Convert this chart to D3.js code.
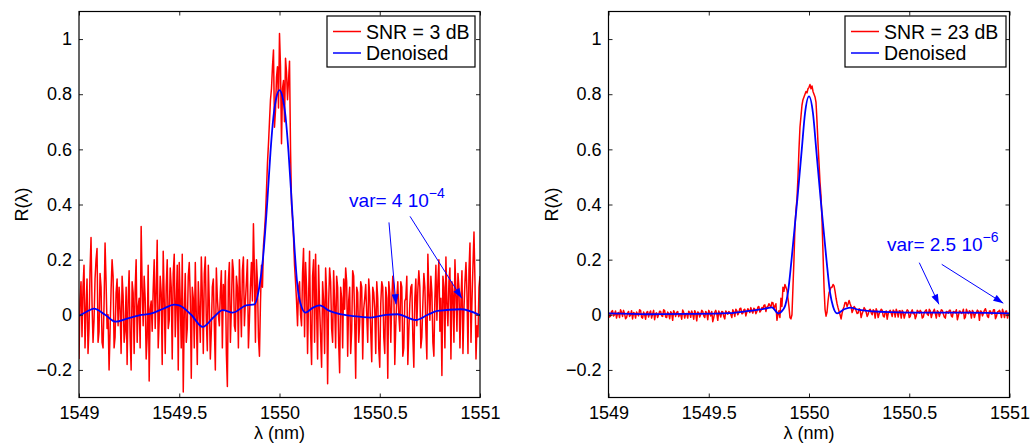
<!DOCTYPE html>
<html>
<head>
<meta charset="utf-8">
<script src="https://cdnjs.cloudflare.com/ajax/libs/d3/7.8.5/d3.min.js"></script>
<style>
  body { margin: 0; background: #fff; }
  svg { font-family: "Liberation Sans", Arial, Helvetica, sans-serif; }
</style>
</head>
<body>
<script>
// wavelength grid of the noisy spectra (nm): whole steps and half steps
var lambdaStart = 1549;
var lambdaStep = 0.01;

// tick values, shared by both panels
var xTicks = [1549, 1549.5, 1550, 1550.5, 1551];
var yTicks = [-0.2, 0, 0.2, 0.4, 0.6, 0.8, 1];

// left panel: noisy spectrum at SNR = 3 dB, at 1549.00, 1549.01 .. 1551.00
var noisyLeft = [
  -0.16, 0.12, 0.1, -0.12, 0.13, -0.05, 0.28, -0.1, 0.13, 0.24,
  -0.06, 0.1, -0.12, 0.26, -0.05, -0.2, 0.09, 0.14, -0.08, 0.13,
  0.1, -0.14, 0.07, -0.06, -0.18, 0.16, -0.2, 0.08, 0.09, -0.1,
  0.06, 0.32, -0.04, 0.06, -0.08, -0.24, 0.05, 0.09, -0.05, 0.27,
  -0.02, 0.08, 0.23, -0.14, 0.2, -0.02, 0.1, 0.15, -0.08, 0.18,
  0.19, -0.12, -0.28, 0.15, -0.05, 0.19, -0.23, 0.06, 0.19, -0.18,
  0.02, 0.21, -0.14, 0.21, -0.13, 0.04, -0.06, 0.13, -0.2, 0.06,
  -0.04, 0.16, 0.11, 0.16, -0.26, 0.19, 0.02, 0.16, -0.06, 0.1,
  0.2, -0.08, 0.21, 0.05, 0.2, -0.02, 0.19, 0.33, -0.1, 0.12,
  -0.15, 0.18, 0.25, 0.36, 0.55, 0.7, 0.82, 0.96, 0.74, 0.9,
  1.02, 0.62, 0.85, 0.93, 0.78, 0.92, 0.4, 0.28, 0.12, -0.04,
  0.12, -0.04, 0.24, 0.19, -0.14, 0.23, -0.18, 0.2, 0.22, -0.16,
  0.03, -0.19, 0.05, 0.17, -0.25, 0.17, -0.05, 0.16, -0.12, 0.1,
  -0.21, 0.06, 0.13, 0.17, -0.15, 0.1, -0.06, 0.14, -0.23, 0.08,
  -0.03, 0.1, 0.02, 0.11, -0.1, 0.07, -0.17, 0.08, -0.14, 0.06,
  -0.19, 0.12, -0.08, 0.1, -0.23, 0.08, 0.05, 0.1, -0.04, 0.12,
  -0.06, 0.1, -0.12, 0.06, -0.18, 0.04, 0.11, -0.19, 0.13, 0.09,
  0.1, -0.08, 0.15, -0.05, 0.22, -0.02, 0.08, -0.15, 0.18, 0.12,
  -0.06, -0.22, 0.1, 0.21, -0.04, 0.17, 0.12, -0.1, 0.08, 0.15,
  -0.12, 0.16, 0.02, 0.19, -0.14, 0.26, 0.05, 0.3, -0.16, -0.08,
  0.14
];

// left panel: the half steps 1549.005 .. 1550.995
var noisyLeftMid = [
  0.05, -0.08, 0.18, 0.02, -0.14, 0.16, 0.04, -0.02, 0.2, -0.1,
  0.15, -0.1, 0.04, 0.12, 0.0, -0.06, 0.2, -0.12, 0.08, -0.04,
  0.02, 0.14, -0.1, 0.1, 0.05, -0.08, 0.12, -0.14, 0.2, 0.03,
  -0.12, 0.1, 0.14, -0.16, 0.18, 0.02, -0.06, 0.2, 0.08, -0.12,
  0.14, -0.18, 0.06, 0.1, -0.05, 0.17, -0.16, 0.22, 0.04, -0.2,
  0.05, 0.22, 0.0, -0.1, 0.14, 0.06, 0.1, -0.12, 0.0, 0.12,
  -0.1, 0.08, 0.15, -0.02, 0.18, -0.16, 0.1, -0.04, 0.17, 0.0,
  0.08, -0.12, 0.02, -0.14, 0.12, -0.1, 0.2, -0.04, 0.14, -0.12,
  0.06, 0.16, -0.04, 0.12, -0.12, 0.1, 0.05, 0.15, 0.2, -0.08,
  0.04, 0.1, 0.3, 0.45, 0.62, 0.78, 0.9, 0.68, 0.86, 0.75,
  0.9, 0.82, 0.7, 0.88, 0.85, 0.6, 0.35, 0.18, 0.05, 0.1,
  0.0, 0.15, -0.08, 0.1, 0.06, -0.06, 0.14, -0.1, 0.02, 0.18,
  -0.08, 0.12, -0.14, 0.08, 0.04, 0.12, -0.1, 0.04, 0.14, -0.1,
  0.1, -0.12, 0.02, 0.12, 0.05, -0.14, 0.16, -0.02, 0.1, -0.1,
  0.12, -0.16, 0.06, 0.0, 0.13, -0.06, 0.1, 0.02, 0.12, -0.12,
  0.04, 0.1, -0.14, 0.06, 0.12, -0.1, 0.14, -0.18, 0.06, 0.0,
  0.12, -0.15, 0.05, 0.14, -0.06, 0.1, -0.08, 0.06, -0.04, 0.16,
  -0.12, 0.04, 0.1, -0.16, 0.08, 0.14, -0.1, 0.06, -0.02, 0.2,
  0.06, 0.14, -0.12, 0.04, 0.12, -0.16, 0.08, 0.2, -0.06, 0.1,
  0.05, -0.14, 0.12, 0.08, 0.16, -0.1, 0.18, 0.12, -0.04, 0.1
];

// left panel: denoised spectrum [lambda, R]
var denoisedLeft = [
  [1549.0, -0.004], [1549.04, 0.012], [1549.075, 0.022], [1549.13, 0.0],
  [1549.183, -0.025], [1549.24, -0.014], [1549.3, -0.002], [1549.358, 0.004],
  [1549.42, 0.022], [1549.475, 0.037], [1549.5, 0.034], [1549.56, 0.0],
  [1549.617, -0.044], [1549.67, -0.01], [1549.717, 0.017], [1549.767, 0.008],
  [1549.833, 0.034], [1549.875, 0.038], [1549.9, 0.104], [1549.917, 0.2],
  [1549.94, 0.42], [1549.955, 0.59], [1549.97, 0.72], [1549.985, 0.79],
  [1550.0, 0.815], [1550.015, 0.79], [1550.03, 0.72], [1550.045, 0.59],
  [1550.06, 0.42], [1550.075, 0.24], [1550.088, 0.116], [1550.105, 0.04],
  [1550.13, 0.008], [1550.165, 0.025], [1550.2, 0.034], [1550.25, 0.014],
  [1550.288, 0.005], [1550.37, -0.005], [1550.455, -0.01], [1550.53, 0.0],
  [1550.588, 0.002], [1550.68, -0.019], [1550.74, 0.0], [1550.788, 0.014],
  [1550.905, 0.02], [1551.0, -0.002]
];

// right panel: noisy spectrum at SNR = 23 dB, at 1549.00 .. 1549.89
var noisyRightLow = [
  0.01, -0.005, 0.015, 0.0, -0.012, 0.008, 0.018, -0.006, 0.004, -0.01,
  0.012, 0.0, -0.015, 0.006, 0.01, -0.004, 0.016, -0.012, 0.002, 0.009,
  -0.008, 0.014, 0.003, -0.018, 0.007, 0.0, 0.012, -0.006, 0.015, -0.01,
  0.004, 0.011, -0.02, 0.006, 0.009, -0.007, 0.002, 0.017, -0.012, 0.005,
  0.013, -0.009, 0.003, 0.015, -0.022, 0.008, 0.001, 0.012, -0.01, 0.006,
  0.016, -0.004, -0.025, 0.009, 0.004, 0.014, -0.008, 0.01, -0.015, 0.007,
  0.012, 0.002, 0.018, -0.006, 0.015, 0.008, 0.024, 0.005, 0.02, 0.01,
  0.016, 0.026, 0.006, 0.02, 0.012, 0.03, 0.015, 0.022, 0.036, 0.028,
  0.04, 0.028, 0.044, 0.032, -0.02, 0.015, 0.06, 0.1, 0.11, 0.09
];

// right panel: half steps 1549.005 .. 1549.895
var noisyRightLowMid = [
  -0.008, 0.012, -0.004, 0.014, 0.005, -0.01, 0.009, 0.016, -0.014, 0.006,
  -0.006, 0.015, 0.008, -0.012, 0.003, 0.018, -0.009, 0.01, -0.016, 0.012,
  0.006, -0.012, 0.016, 0.004, -0.01, 0.013, -0.004, 0.018, -0.008, 0.01,
  -0.014, 0.006, 0.015, -0.006, 0.012, 0.002, -0.016, 0.009, 0.004, -0.012,
  0.008, 0.014, -0.016, 0.006, 0.01, -0.008, 0.016, -0.004, 0.012, -0.018,
  0.006, 0.012, -0.01, 0.016, -0.02, 0.004, 0.012, -0.006, 0.014, 0.002,
  0.008, -0.01, 0.01, 0.02, 0.0, 0.022, 0.004, 0.018, -0.004, 0.022,
  0.008, 0.014, 0.024, 0.004, 0.028, 0.01, 0.026, 0.034, 0.012, 0.03,
  0.034, 0.045, 0.022, 0.04, 0.0, -0.01, 0.03, 0.085, 0.1, 0.06
];

// right panel: the peak, sampled finer [lambda, R]
var noisyRightPeak = [
  [1549.9, 0.03], [1549.905, -0.01], [1549.91, -0.015], [1549.915, 0.0],
  [1549.92, 0.1], [1549.925, 0.2], [1549.93, 0.32], [1549.935, 0.38],
  [1549.94, 0.42], [1549.945, 0.5], [1549.95, 0.6], [1549.955, 0.68],
  [1549.96, 0.72], [1549.965, 0.76], [1549.97, 0.78], [1549.975, 0.79],
  [1549.98, 0.8], [1549.985, 0.81], [1549.99, 0.805], [1549.995, 0.82],
  [1550.0, 0.825], [1550.005, 0.835], [1550.01, 0.82], [1550.015, 0.83],
  [1550.02, 0.81], [1550.025, 0.8], [1550.03, 0.79], [1550.035, 0.77],
  [1550.04, 0.7], [1550.045, 0.62], [1550.05, 0.55], [1550.055, 0.48],
  [1550.06, 0.43], [1550.065, 0.34], [1550.07, 0.22], [1550.075, 0.1],
  [1550.08, 0.02], [1550.085, -0.005], [1550.09, 0.01], [1550.095, 0.05],
  [1550.1, 0.08]
];

// right panel: at 1550.11 .. 1551.00
var noisyRightHigh = [
  0.1, 0.11, 0.085, 0.04, 0.012, -0.015, 0.02, 0.045, 0.03, 0.052,
  0.03, 0.018, 0.025, 0.005, 0.022, -0.01, 0.014, 0.02, -0.006, 0.016,
  0.008, 0.018, -0.012, 0.012, 0.004, 0.02, -0.004, 0.01, -0.016, 0.012,
  0.006, 0.017, -0.008, 0.01, 0.015, -0.012, 0.008, 0.003, 0.018, -0.01,
  0.011, 0.004, -0.014, 0.016, 0.006, 0.01, -0.008, 0.014, 0.002, 0.02,
  -0.01, 0.012, 0.005, 0.015, -0.006, 0.018, 0.003, -0.012, 0.01, 0.016,
  -0.004, 0.012, 0.007, -0.018, 0.014, 0.005, 0.02, -0.008, 0.01, 0.015,
  -0.012, 0.009, 0.004, 0.017, -0.02, 0.012, 0.006, 0.022, -0.006, 0.014,
  0.003, 0.018, -0.014, 0.01, 0.016, -0.01, 0.008, 0.012, -0.012, 0.006
];

// right panel: half steps 1550.105 .. 1550.995
var noisyRightHighMid = [
  0.09, 0.1, 0.105, 0.06, 0.025, 0.0, 0.005, 0.03, 0.045, 0.04,
  0.04, 0.008, 0.03, 0.015, 0.006, 0.018, 0.004, 0.026, 0.01, 0.002,
  0.02, 0.0, 0.014, 0.022, -0.01, 0.012, 0.016, -0.008, 0.014, 0.004,
  0.016, -0.006, 0.012, 0.02, -0.008, 0.014, 0.016, -0.012, 0.01, 0.014,
  -0.006, 0.018, 0.008, -0.004, 0.012, 0.016, -0.012, 0.008, 0.018, -0.002,
  0.014, 0.004, 0.02, -0.012, 0.01, 0.006, 0.016, -0.008, 0.012, 0.006,
  0.016, -0.008, 0.01, 0.018, -0.004, 0.012, 0.008, -0.014, 0.02, 0.004,
  0.01, 0.016, -0.01, 0.008, 0.012, 0.014, -0.004, 0.016, 0.01, -0.01,
  0.014, 0.004, 0.018, -0.006, 0.012, 0.008, 0.02, -0.01, 0.014, 0.004
];

// right panel: denoised spectrum [lambda, R]
var denoisedRight = [
  [1549.0, 0.005], [1549.2, 0.002], [1549.4, 0.003], [1549.6, 0.006],
  [1549.7, 0.014], [1549.78, 0.022], [1549.815, 0.027], [1549.847, 0.005],
  [1549.87, 0.018], [1549.882, 0.035], [1549.895, 0.08], [1549.913, 0.2],
  [1549.942, 0.42], [1549.964, 0.6], [1549.98, 0.73], [1550.0, 0.792],
  [1550.02, 0.73], [1550.036, 0.6], [1550.058, 0.42], [1550.087, 0.2],
  [1550.105, 0.08], [1550.12, 0.03], [1550.14, 0.005], [1550.175, 0.02],
  [1550.205, 0.026], [1550.25, 0.018], [1550.4, 0.01], [1550.6, 0.008],
  [1550.8, 0.008], [1551.0, 0.005]
];

var legendLeft = ["SNR = 3 dB", "Denoised"];
var legendRight = ["SNR = 23 dB", "Denoised"];

// put grid values together with their wavelength (offset 0.5 for half steps)
function onGrid(values, firstIndex) {
  return values.map(function(v, i) {
    return [+(lambdaStart + (firstIndex + i) * lambdaStep).toFixed(4), v];
  });
}

function byLambda(a, b) {
  return a[0] - b[0];
}

var seriesLeft = onGrid(noisyLeft, 0)
  .concat(onGrid(noisyLeftMid, 0.5))
  .sort(byLambda);

var seriesRight = onGrid(noisyRightLow, 0)
  .concat(onGrid(noisyRightLowMid, 0.5))
  .concat(noisyRightPeak)
  .concat(onGrid(noisyRightHigh, 111))
  .concat(onGrid(noisyRightHighMid, 110.5))
  .sort(byLambda);

// size of the picture and vertical extent of the axes
var w = 1031;
var h = 446;
var plotTop = 11.5;
var plotBottom = 397.5;

var svg = d3.select("body")
            .append("svg")
            .attr("width", w)
            .attr("height", h);

var defs = svg.append("defs");

// arrow head used by the annotations
defs.append("marker")
    .attr("id", "head")
    .attr("viewBox", "0 0 10 7")
    .attr("refX", 10)
    .attr("refY", 3.5)
    .attr("markerUnits", "userSpaceOnUse")
    .attr("markerWidth", 11)
    .attr("markerHeight", 7)
    .attr("orient", "auto")
    .append("path")
    .attr("d", "M0,0 L10,3.5 L0,7 Z")
    .attr("fill", "#0000ff");

function fmt(d) {
  return String(d).replace("-", "\u2212");
}

function drawPanel(p) {
  var xScale = d3.scaleLinear()
                 .domain([1549, 1551])
                 .range([p.left, p.right]);

  var yScale = d3.scaleLinear()
                 .domain([-0.3, 1.1])
                 .range([plotBottom, plotTop]);

  var g = svg.append("g");

  // clip the curves to the axes box
  defs.append("clipPath")
      .attr("id", p.id)
      .append("rect")
      .attr("x", p.left)
      .attr("y", plotTop)
      .attr("width", p.right - p.left)
      .attr("height", plotBottom - plotTop);

  var noisyLine = d3.line()
                    .x(function(d) { return xScale(d[0]); })
                    .y(function(d) { return yScale(d[1]); });

  var smoothLine = d3.line()
                     .curve(d3.curveMonotoneX)
                     .x(function(d) { return xScale(d[0]); })
                     .y(function(d) { return yScale(d[1]); });

  var plot = g.append("g").attr("clip-path", "url(#" + p.id + ")");

  plot.append("path")
      .datum(p.noisy)
      .attr("d", noisyLine)
      .attr("fill", "none")
      .attr("stroke", "#ff0000")
      .attr("stroke-width", 1.5)
      .attr("stroke-linejoin", "round");

  plot.append("path")
      .datum(p.denoised)
      .attr("d", smoothLine)
      .attr("fill", "none")
      .attr("stroke", "#0000ff")
      .attr("stroke-width", 1.8);

  // axes, ticks pointing inwards on all four sides
  g.append("g")
   .attr("transform", "translate(0," + plotBottom + ")")
   .call(d3.axisBottom(xScale).tickValues(xTicks).tickFormat(fmt)
           .tickSizeInner(-4).tickSizeOuter(0).tickPadding(9));
  g.append("g")
   .attr("transform", "translate(0," + plotTop + ")")
   .call(d3.axisTop(xScale).tickValues(xTicks).tickFormat("")
           .tickSizeInner(-4).tickSizeOuter(0));
  g.append("g")
   .attr("transform", "translate(" + p.left + ",0)")
   .call(d3.axisLeft(yScale).tickValues(yTicks).tickFormat(fmt)
           .tickSizeInner(-4).tickSizeOuter(0).tickPadding(7));
  g.append("g")
   .attr("transform", "translate(" + p.right + ",0)")
   .call(d3.axisRight(yScale).tickValues(yTicks).tickFormat("")
           .tickSizeInner(-4).tickSizeOuter(0));

  g.selectAll(".domain").remove();
  g.selectAll(".tick line").attr("stroke", "#222");
  g.selectAll(".tick text")
   .attr("font-size", "18px")
   .attr("font-family", "'Liberation Sans', Arial, sans-serif")
   .attr("fill", "#000");

  // axes box
  g.append("rect")
   .attr("x", p.left)
   .attr("y", plotTop)
   .attr("width", p.right - p.left)
   .attr("height", plotBottom - plotTop)
   .attr("fill", "none")
   .attr("stroke", "#000")
   .attr("stroke-width", 1.2);

  // axis labels
  g.append("text")
   .attr("x", (p.left + p.right) / 2)
   .attr("y", 439)
   .attr("text-anchor", "middle")
   .attr("font-size", "18px")
   .text("\u03bb (nm)");

  g.append("text")
   .attr("transform", "translate(" + (p.left - 51) + "," + ((plotTop + plotBottom) / 2) + ") rotate(-90)")
   .attr("text-anchor", "middle")
   .attr("font-size", "18px")
   .text("R(\u03bb)");

  // legend
  var legend = g.append("g");
  legend.append("rect")
        .attr("x", p.legendX)
        .attr("y", 16)
        .attr("width", p.legendW)
        .attr("height", 51)
        .attr("fill", "#fff")
        .attr("stroke", "#000")
        .attr("stroke-width", 1.2);

  var legendColor = ["#ff0000", "#0000ff"];
  for (var n = 0; n < p.legend.length; n++) {
    legend.append("line")
          .attr("x1", p.legendX + 6)
          .attr("x2", p.legendX + 34)
          .attr("y1", 31.5 + n * 21.5)
          .attr("y2", 31.5 + n * 21.5)
          .attr("stroke", legendColor[n])
          .attr("stroke-width", 1.5);
    legend.append("text")
          .attr("x", p.legendX + 39)
          .attr("y", 38.5 + n * 21.5)
          .attr("font-size", "19.5px")
          .text(p.legend[n]);
  }

  // variance annotation with two arrows
  var note = g.append("text")
              .attr("x", xScale(p.note.at[0]))
              .attr("y", yScale(p.note.at[1]))
              .attr("font-size", "19px")
              .attr("fill", "#0000ff");
  note.append("tspan").text(p.note.text);
  note.append("tspan")
      .attr("dy", -9)
      .attr("font-size", "14px")
      .text(p.note.exp);

  p.note.arrows.forEach(function(a) {
    g.append("line")
     .attr("x1", xScale(a[0]))
     .attr("y1", yScale(a[1]))
     .attr("x2", xScale(a[2]))
     .attr("y2", yScale(a[3]))
     .attr("stroke", "#0000ff")
     .attr("stroke-width", 1)
     .attr("marker-end", "url(#head)");
  });
}

drawPanel({
  id: "clipLeft", left: 79, right: 480,
  noisy: seriesLeft, denoised: denoisedLeft,
  legend: legendLeft, legendX: 327, legendW: 148,
  note: {
    text: "var= 4 10", exp: "\u22124", at: [1550.347, 0.392],
    arrows: [[1550.546, 0.335, 1550.581, 0.038], [1550.651, 0.357, 1550.909, 0.06]]
  }
});

drawPanel({
  id: "clipRight", left: 608.5, right: 1009.5,
  noisy: seriesRight, denoised: denoisedRight,
  legend: legendRight, legendX: 845, legendW: 161,
  note: {
    text: "var= 2.5 10", exp: "\u22126", at: [1550.389, 0.233],
    arrows: [[1550.55, 0.189, 1550.648, 0.038], [1550.662, 0.183, 1550.969, 0.042]]
  }
});
</script>
</body>
</html>
